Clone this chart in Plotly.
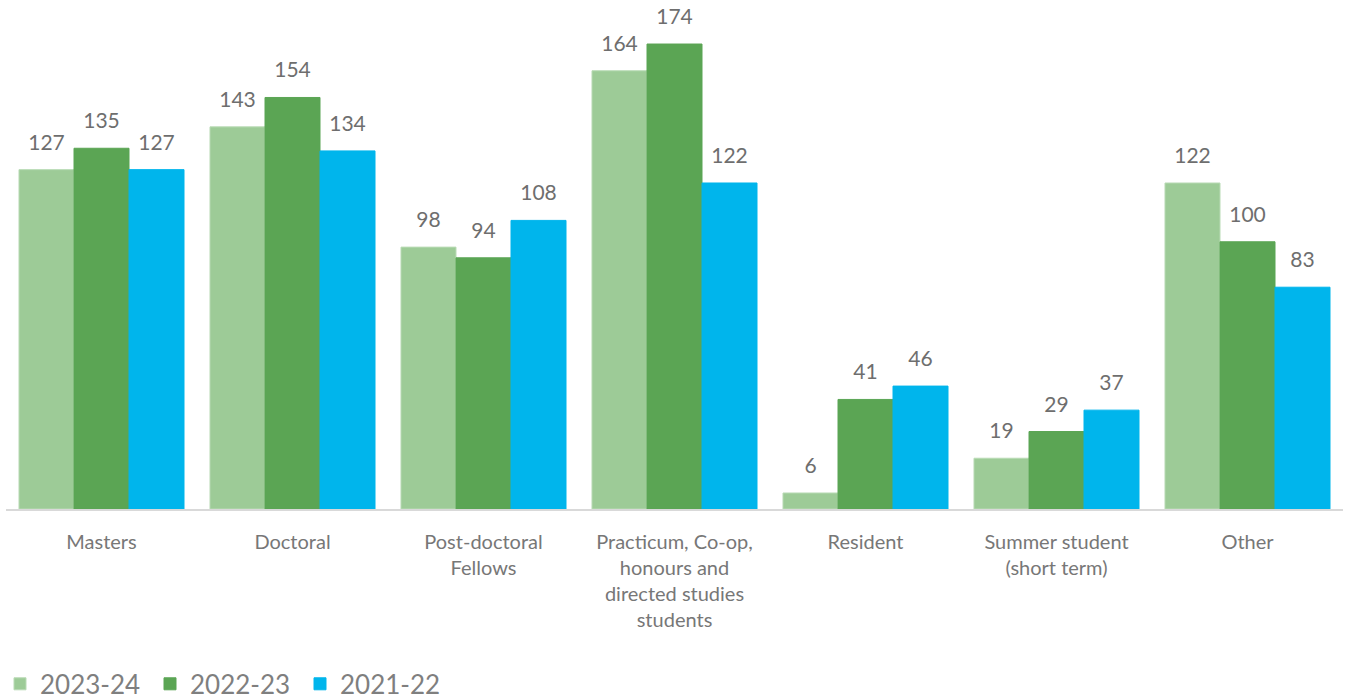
import plotly.graph_objects as go

categories = ["Masters", "Doctoral", "Post-doctoral<br>Fellows",
              "Practicum, Co-op,<br>honours and<br>directed studies<br>students",
              "Resident", "Summer student<br>(short term)", "Other"]
series_names = ["2023-24", "2022-23", "2021-22"]
v_2023_24 = [127, 143, 98, 164, 6, 19, 122]
v_2022_23 = [135, 154, 94, 174, 41, 29, 100]
v_2021_22 = [127, 134, 108, 122, 46, 37, 83]

colors = ["#9DCB97", "#5BA554", "#00B5EC"]
borders = ["#B9DBB5", "#5BA554", "#00B5EC"]
FONT = "Lato, Open Sans, sans-serif"

fig = go.Figure()
all_vals = [v_2023_24, v_2022_23, v_2021_22]
for name, vals, c, bc in zip(series_names, all_vals, colors, borders):
    fig.add_trace(go.Bar(
        x=categories, y=vals, name=name,
        marker=dict(color=c, line=dict(color=bc, width=1)),
    ))
# data labels as grouped scatter text, aligned with the bars
for name, vals in zip(series_names, all_vals):
    fig.add_trace(go.Scatter(
        x=categories, y=vals, mode="markers+text", showlegend=False,
        marker=dict(size=22, opacity=0), hoverinfo="skip",
        text=[str(v) for v in vals], textposition="top center",
        textfont=dict(size=21, color="#6E6E6E", family=FONT),
        cliponaxis=False,
    ))

fig.update_layout(
    width=1351, height=700,
    margin=dict(l=6, r=8, t=28, b=191),
    barmode="group", bargap=0.136, bargroupgap=0,
    scattermode="group", scattergap=0.136,
    plot_bgcolor="white", paper_bgcolor="white",
    font=dict(family=FONT, color="#777777"),
    legend=dict(orientation="h", x=0.0, xref="container", y=0.023, yref="container",
                yanchor="middle", xanchor="left",
                font=dict(size=26, color="#7F7F7F"), traceorder="normal",
                itemwidth=30, tracegroupgap=0, entrywidth=105),
    showlegend=True,
)
fig.update_xaxes(showline=True, linecolor="#D9D9D9", linewidth=1.5,
                 tickfont=dict(size=20, color="#777777"), ticks="",
                 ticklabelstandoff=14, automargin=False)
fig.update_yaxes(range=[0, 180], visible=False, showgrid=False, zeroline=False)

fig.write_html("out.html")
